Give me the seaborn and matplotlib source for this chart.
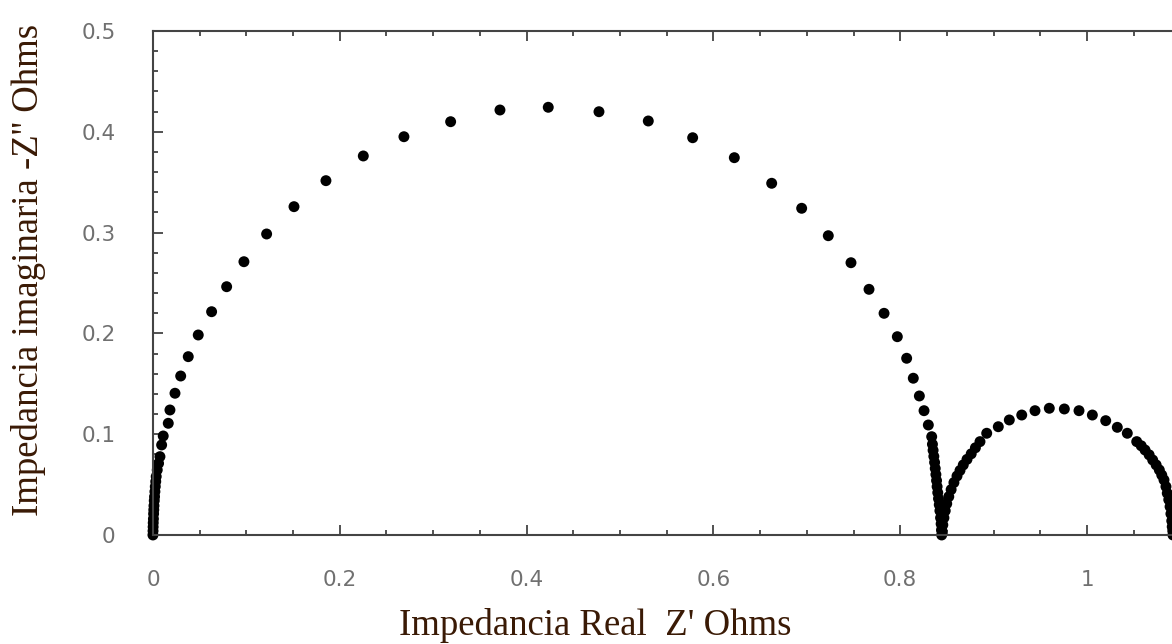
import numpy as np
import pandas as pd
import matplotlib
matplotlib.use("Agg")
import matplotlib.pyplot as plt
from matplotlib.ticker import MultipleLocator
import seaborn as sns

# valores (Nyquist), en orden a lo largo de la curva
z_real = [
    # primer semicirculo, zona densa cerca del origen
    0.0000, 0.0001, 0.0002, 0.0003, 0.0005, 0.0007, 0.0009, 0.0011, 0.0014,
    0.0017, 0.0021, 0.0025, 0.0030, 0.0035, 0.0046, 0.0060, 0.0075, 0.0093,
    0.0110,
    # primer semicirculo, puntos separados
    0.0164, 0.0182, 0.0236, 0.0297, 0.0378, 0.0485, 0.0628, 0.0789, 0.0974,
    0.1217, 0.1510, 0.1852, 0.2252, 0.2687, 0.3187, 0.3715, 0.4232, 0.4775,
    0.5303, 0.5778, 0.6224, 0.6624, 0.6945, 0.7230, 0.7473, 0.7666, 0.7827,
    0.7969, 0.8069, 0.8140, 0.8205, 0.8255, 0.8301, 0.8337,
    # bajada densa hasta el eje
    0.8345, 0.8352, 0.8360, 0.8368, 0.8375, 0.8382, 0.8389, 0.8395, 0.8402,
    0.8410, 0.8418, 0.8425, 0.8432, 0.8438, 0.8442, 0.8444,
    # segundo semicirculo, subida densa
    0.8448, 0.8456, 0.8468, 0.8482, 0.8498, 0.8520, 0.8545, 0.8575, 0.8608,
    0.8640, 0.8675, 0.8715, 0.8760, 0.8805, 0.8854,
    # segundo semicirculo, puntos separados
    0.8926, 0.9050, 0.9168, 0.9301, 0.9443, 0.9596, 0.9757, 0.9914, 1.0057,
    1.0200, 1.0324, 1.0431, 1.0532, 1.0580, 1.0621, 1.0665, 1.0703, 1.0740,
    1.0774, 1.0800, 1.0824, 1.0845, 1.0859, 1.0875, 1.0889, 1.0898, 1.0907,
    1.0912, 1.0918, 1.0920,
]
z_imag = [
    0.0000, 0.0040, 0.0080, 0.0120, 0.0160, 0.0210, 0.0250, 0.0290, 0.0340,
    0.0380, 0.0430, 0.0480, 0.0530, 0.0580, 0.0645, 0.0710, 0.0777, 0.0893,
    0.0982,
    0.1108, 0.1240, 0.1406, 0.1577, 0.1769, 0.1984, 0.2215, 0.2463, 0.2711,
    0.2986, 0.3257, 0.3515, 0.3760, 0.3951, 0.4100, 0.4216, 0.4243, 0.4199,
    0.4107, 0.3941, 0.3743, 0.3489, 0.3241, 0.2969, 0.2701, 0.2437, 0.2199,
    0.1967, 0.1753, 0.1555, 0.1379, 0.1233, 0.1091, 0.0975,
    0.0900, 0.0840, 0.0780, 0.0720, 0.0660, 0.0600, 0.0540, 0.0480, 0.0420,
    0.0360, 0.0300, 0.0240, 0.0170, 0.0110, 0.0050, 0.0000,
    0.0040, 0.0100, 0.0170, 0.0240, 0.0310, 0.0380, 0.0450, 0.0520, 0.0585,
    0.0640, 0.0695, 0.0750, 0.0805, 0.0865, 0.0926,
    0.1009, 0.1074, 0.1141, 0.1190, 0.1233, 0.1257, 0.1250, 0.1233, 0.1190,
    0.1134, 0.1068, 0.1009, 0.0926, 0.0885, 0.0843, 0.0795, 0.0744, 0.0695,
    0.0645, 0.0595, 0.0546, 0.0480, 0.0414, 0.0350, 0.0281, 0.0210, 0.0140,
    0.0082, 0.0040, 0.0000,
]

x_ticks = [0, 0.2, 0.4, 0.6, 0.8, 1.0]
x_tick_labels = ["0", "0.2", "0.4", "0.6", "0.8", "1"]
y_ticks = [0, 0.1, 0.2, 0.3, 0.4, 0.5]
y_tick_labels = ["0", "0.1", "0.2", "0.3", "0.4", "0.5"]

df = pd.DataFrame({"real": z_real, "imag": z_imag})

sns.set_style("ticks")
plt.rcParams["font.family"] = ["DejaVu Sans"]

fig = plt.figure(figsize=(11.72, 6.44), dpi=100)
# el eje sigue mas alla del borde derecho de la imagen
ax = fig.add_axes([0.1305, 0.1693, 0.8767, 0.7826])

sns.scatterplot(data=df, x="real", y="imag", ax=ax, color="black", s=62,
                edgecolor="none", linewidth=0, legend=False, clip_on=False)

ax.set_xlim(0, 1.1)
ax.set_ylim(0, 0.5)
ax.set_xticks(x_ticks)
ax.set_xticklabels(x_tick_labels)
ax.set_yticks(y_ticks)
ax.set_yticklabels(y_tick_labels)
ax.xaxis.set_minor_locator(MultipleLocator(0.05))
ax.yaxis.set_minor_locator(MultipleLocator(0.02))

ax.tick_params(which="major", direction="in", length=7, width=1.2,
               color="#333333", top=True, right=False,
               labelsize=15.5, labelcolor="#707070")
ax.tick_params(axis="x", which="major", pad=25)
ax.tick_params(axis="y", which="major", pad=27)
ax.tick_params(which="minor", direction="in", length=3.5, width=1.2,
               color="#333333", top=True, right=False)

for side in ["left", "bottom", "top"]:
    ax.spines[side].set_linewidth(1.5)
    ax.spines[side].set_color("#444444")
ax.spines["right"].set_visible(False)

label_font = dict(family="Liberation Serif", size=26.5, color="#3a1a05")
ax.set_xlabel("Impedancia Real  Z' Ohms", **label_font)
ax.set_ylabel("Impedancia imaginaria -Z'' Ohms", **label_font)
ax.xaxis.set_label_coords(0.430, -0.145)
ax.yaxis.set_label_coords(-0.104, 0.526)

fig.savefig("out.png", dpi=100)
